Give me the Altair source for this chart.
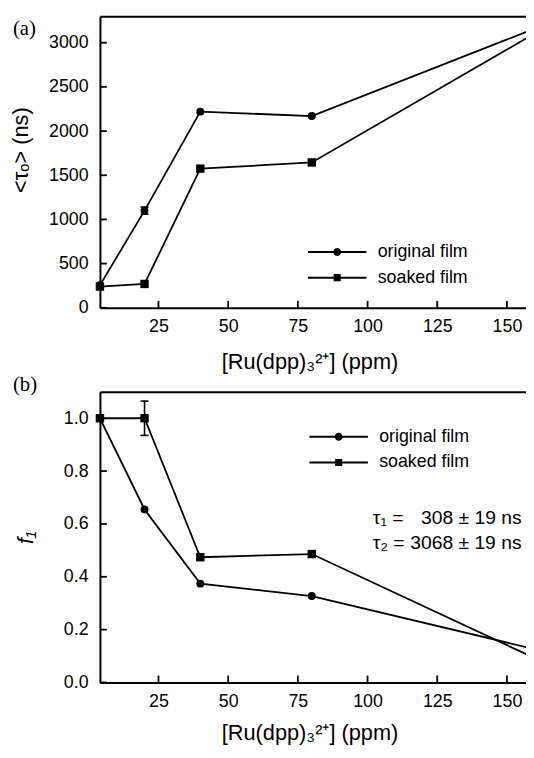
import altair as alt
import pandas as pd

# ---------------- data ----------------
concentration = [4, 20, 40, 80, 160]
series_names = ["original film", "soaked film"]

tau_original = [255, 1100, 2220, 2170, 3160]
tau_soaked = [240, 270, 1575, 1645, 3105]
tau_err_original = [0, 40, 0, 0, 0]
tau_err_soaked = [0, 0, 0, 0, 0]

f1_original = [1.0, 0.655, 0.374, 0.327, 0.126]
f1_soaked = [1.0, 1.0, 0.474, 0.486, 0.092]
f1_err_original = [0, 0, 0, 0, 0]
f1_err_soaked = [0, 0.065, 0, 0, 0]

x_tick_values = [25, 50, 75, 100, 125, 150]
tau_tick_values = [0, 500, 1000, 1500, 2000, 2500, 3000]
f1_tick_values = [0.0, 0.2, 0.4, 0.6, 0.8, 1.0]

panel_tags = ["(a)", "(b)"]
fit_names = ["τ₁ =", "τ₂ ="]
fit_values = ["308 ± 19 ns", "3068 ± 19 ns"]
x_title = "[Ru(dpp)₃²⁺] (ppm)"
tau_title = "<τₒ> (ns)"
f1_title = "f₁"

FONT = "Liberation Sans"
W = 431
PX_PER_UNIT = 2.82
X_MIN = 4
X_MAX = X_MIN + W / PX_PER_UNIT   # the picture is cropped just before 160 ppm
TICK_COLOR = "black"

# legend symbols: line + marker, built from filled shapes only
CIRCLE_PATH = "M-7.4,-0.25H7.4V0.25H-7.4Z M-1,0A1,1,0,1,1,1,0A1,1,0,1,1,-1,0Z"
SQUARE_PATH = "M-7.4,-0.25H7.4V0.25H-7.4Z M-0.9,-0.9H0.9V0.9H-0.9Z"


def make_df(orig, soak, err_o, err_s):
    rows = []
    for name, vals, errs in [(series_names[0], orig, err_o), (series_names[1], soak, err_s)]:
        for c, v, e in zip(concentration, vals, errs):
            rows.append({"conc": c, "value": v, "err": e, "lo": v - e, "hi": v + e, "series": name})
    return pd.DataFrame(rows)


COMMON_AXIS = dict(grid=False, labelFont=FONT, labelFontSize=18, labelColor="black",
                   labelFlush=False, titleFont=FONT, titleFontSize=22,
                   titleFontWeight="normal", titleColor="black",
                   domainColor="black", domainWidth=2)


def panel(df, y_domain, y_ticks, y_format, y_title, title_style, title_x, title_y,
          x_title_y, tag, tag_y, legend_x, legend_y, height, extra=None):
    xs = alt.Scale(domain=[X_MIN, X_MAX], nice=False, zero=False)
    ys = alt.Scale(domain=y_domain, nice=False, zero=False)

    x_axis = alt.Axis(values=x_tick_values, format="d", title=x_title, orient="bottom",
                      ticks=False, domain=True, labelPadding=10, titleX=212, titleY=x_title_y,
                      titleBaseline="alphabetic", titleAlign="center", **COMMON_AXIS)
    y_axis = alt.Axis(values=y_ticks, format=y_format, title=y_title, orient="left",
                      ticks=False, domain=True, labelPadding=12, titleAngle=270,
                      titleX=title_x, titleY=title_y, titleBaseline="alphabetic",
                      titleAlign="center", titleFontStyle=title_style, **COMMON_AXIS)
    x_top_axis = alt.Axis(orient="top", ticks=False, labels=False, domain=True, title=None,
                          **COMMON_AXIS)

    x = alt.X("conc:Q", scale=xs, axis=x_axis)
    y = alt.Y("value:Q", scale=ys, axis=y_axis)

    base = alt.Chart(df)
    lines = base.mark_line(color="black", strokeWidth=1.8, clip=True).encode(
        x=x, y=y, detail="series:N")

    top_layer = base.transform_filter("false").mark_point().encode(
        x=alt.X("conc:Q", axis=x_top_axis), y=alt.Y("value:Q", axis=None))

    # inward tick marks, placed through the scales at the axis positions
    xt = alt.Chart(pd.DataFrame({"t": x_tick_values, "b": [y_domain[0]] * len(x_tick_values)})).mark_tick(
        orient="vertical", size=7, thickness=1.8, color=TICK_COLOR, opacity=1, yOffset=-3.5).encode(
        x=alt.X("t:Q", axis=None), y=alt.Y("b:Q", axis=None))
    yt = alt.Chart(pd.DataFrame({"t": y_ticks, "b": [X_MIN] * len(y_ticks)})).mark_tick(
        orient="horizontal", size=7, thickness=1.8, color=TICK_COLOR, opacity=1, xOffset=3.5).encode(
        y=alt.Y("t:Q", axis=None), x=alt.X("b:Q", axis=None))

    err = df[df["err"] > 0]
    bars = alt.Chart(err).mark_rule(color="black", strokeWidth=1.6).encode(
        x=alt.X("conc:Q", axis=None), y=alt.Y("lo:Q", axis=None), y2="hi:Q")
    caps_df = pd.concat([err.assign(cap=err["lo"]), err.assign(cap=err["hi"])])
    caps = alt.Chart(caps_df).mark_rule(color="black", strokeWidth=1.6, xOffset=-4,
                                        x2Offset=4).encode(
        x=alt.X("conc:Q", axis=None), x2="conc:Q", y=alt.Y("cap:Q", axis=None))

    visible = base.transform_filter(alt.datum.conc <= X_MAX)
    circles = visible.transform_filter(alt.datum.series == series_names[0]).mark_point(
        shape="circle", filled=True, size=64, color="black", opacity=1).encode(
        x=alt.X("conc:Q", axis=None), y=alt.Y("value:Q", axis=None))
    squares = visible.transform_filter(alt.datum.series == series_names[1]).mark_square(
        size=72, color="black", opacity=1).encode(
        x=alt.X("conc:Q", axis=None), y=alt.Y("value:Q", axis=None))

    legend_layer = base.transform_filter("false").mark_point(
        filled=True, color="black", opacity=1).encode(
        x=alt.X("conc:Q", axis=None), y=alt.Y("value:Q", axis=None),
        shape=alt.Shape("series:N",
                        scale=alt.Scale(domain=series_names, range=[CIRCLE_PATH, SQUARE_PATH]),
                        legend=alt.Legend(title=None, orient="none", legendX=legend_x,
                                          legendY=legend_y, padding=0, offset=0,
                                          symbolSize=64, symbolFillColor="black",
                                          symbolStrokeWidth=0, labelFont=FONT,
                                          labelFontSize=18, labelColor="black",
                                          labelOffset=32, labelLimit=0, rowPadding=8)))

    tag_df = pd.DataFrame({"tag": [tag]})
    tag_mark = alt.Chart(tag_df).mark_text(font="Liberation Serif", fontSize=21, align="left",
                                           baseline="alphabetic", color="black").encode(
        x=alt.value(-88), y=alt.value(tag_y), text="tag:N")

    layers = [lines, top_layer, xt, yt, bars, caps, circles, squares, legend_layer, tag_mark]
    if extra is not None:
        layers += extra
    return alt.layer(*layers).resolve_axis(x="independent", y="independent").properties(
        width=W, height=height)


df_a = make_df(tau_original, tau_soaked, tau_err_original, tau_err_soaked)
df_b = make_df(f1_original, f1_soaked, f1_err_original, f1_err_soaked)

fit_df = pd.DataFrame({"name": fit_names, "val": fit_values})
fit_marks = []
for i, ypix in enumerate([134, 159]):
    row = fit_df.iloc[[i]]
    fit_marks.append(alt.Chart(row).mark_text(font=FONT, fontSize=19.5, align="left",
                                              baseline="alphabetic", color="black").encode(
        x=alt.value(276), y=alt.value(ypix), text="name:N"))
    fit_marks.append(alt.Chart(row).mark_text(font=FONT, fontSize=19.5, align="right",
                                              baseline="alphabetic", color="black").encode(
        x=alt.value(426.5), y=alt.value(ypix), text="val:N"))

panel_a = panel(df_a, [0, 3300], tau_tick_values, "d", tau_title, "normal", -73, 135, 61,
                panel_tags[0], 19, 231, 229.5, 295)
panel_b = panel(df_b, [0, 1.1], f1_tick_values, ".1f", f1_title, "italic", -68.5, 147, 58,
                panel_tags[1], -1, 232.5, 36.5, 294, extra=fit_marks)

chart = alt.vconcat(panel_a, panel_b, spacing=85, bounds="flush").resolve_scale(
    shape="independent").resolve_legend(shape="independent").properties(
    padding={"left": 2, "top": 4, "right": 0, "bottom": 0}).configure_view(stroke=None)

chart.save("out.html", embed_options={"renderer": "svg", "actions": False})
